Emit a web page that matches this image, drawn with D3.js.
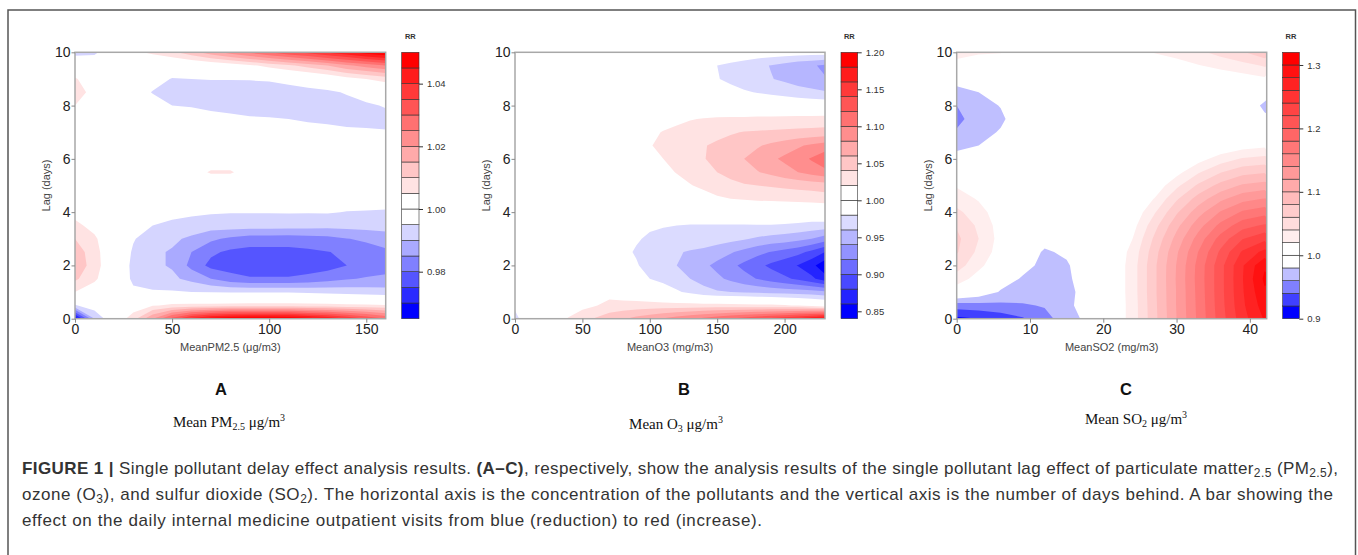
<!DOCTYPE html>
<html>
<head>
<meta charset="utf-8">
<script src="https://cdn.jsdelivr.net/npm/d3@7"></script>
<style>
  body { margin: 0; background: #fff; }
  svg { display: block; font-family: "Liberation Sans", Arial, sans-serif; }
</style>
</head>
<body>
<div id="chart"></div>
<script>
// lag rows shared by the three surfaces (days)
const lags = [0, 0.5, 1, 1.5, 2, 2.5, 3, 3.5, 4, 4.5, 5, 5.5, 6, 6.5, 7, 7.5, 8, 8.5, 9, 9.5, 10];
const lagTicks = [0, 2, 4, 6, 8, 10];

// A: PM2.5
const pm25X = [0, 10, 20, 30, 40, 50, 60, 70, 80, 90, 100, 110, 120, 130, 140, 150, 160];
const pm25Ticks = [0, 50, 100, 150];
const pm25Levels = [0.965, 0.97, 0.975, 0.98, 0.985, 0.99, 0.995, 1.0, 1.005, 1.01, 1.015, 1.02, 1.025, 1.03, 1.035, 1.04, 1.045, 1.05];
const pm25Keys = [0.98, 1.00, 1.02, 1.04];
const pm25RR = [
  [0.966, 0.990, 1.000, 1.008, 1.020, 1.032, 1.042, 1.048, 1.051, 1.052, 1.052, 1.051, 1.048, 1.045, 1.040, 1.035, 1.030],
  [0.9945, 0.998, 1.000, 1.0015, 1.0045, 1.006, 1.0065, 1.0065, 1.0068, 1.007, 1.007, 1.007, 1.0068, 1.0065, 1.0062, 1.006, 1.0055],
  [1.005, 1.002, 1.000, 0.996, 0.9955, 0.9955, 0.995, 0.9948, 0.9946, 0.9945, 0.9945, 0.9945, 0.994, 0.9935, 0.993, 0.9925, 0.992],
  [1.011, 1.006, 1.000, 0.994, 0.9925, 0.991, 0.9885, 0.985, 0.982, 0.9805, 0.9805, 0.9805, 0.9815, 0.983, 0.9845, 0.9855, 0.986],
  [1.013, 1.008, 0.999, 0.994, 0.991, 0.9895, 0.9835, 0.9785, 0.9775, 0.977, 0.977, 0.977, 0.9772, 0.978, 0.980, 0.9815, 0.983],
  [1.0125, 1.0075, 0.999, 0.9945, 0.991, 0.9895, 0.985, 0.981, 0.979, 0.9785, 0.9785, 0.9785, 0.979, 0.9798, 0.981, 0.9825, 0.984],
  [1.010, 1.006, 0.9995, 0.9953, 0.993, 0.991, 0.989, 0.986, 0.984, 0.9825, 0.9825, 0.9825, 0.983, 0.9835, 0.9848, 0.986, 0.9875],
  [1.0065, 1.003, 1.000, 0.997, 0.995, 0.9935, 0.993, 0.9925, 0.9925, 0.9925, 0.9925, 0.9922, 0.992, 0.9918, 0.9918, 0.992, 0.992],
  [1.003, 1.001, 1.000, 0.999, 0.998, 0.997, 0.996, 0.9955, 0.9952, 0.9952, 0.9952, 0.9953, 0.9953, 0.9954, 0.9948, 0.9946, 0.9945],
  [1.001, 1.000, 1.000, 1.000, 0.9995, 0.999, 0.9985, 0.998, 0.998, 0.998, 0.998, 0.998, 0.998, 0.998, 0.998, 0.998, 0.997],
  [1.000, 1.000, 1.000, 1.000, 1.000, 1.000, 1.000, 1.000, 1.000, 1.000, 0.9995, 0.9995, 0.9995, 0.9995, 0.9995, 0.9995, 0.999],
  [1.000, 1.000, 1.000, 1.000, 1.0005, 1.001, 1.002, 1.0057, 1.0057, 1.002, 1.0005, 1.000, 1.000, 1.000, 1.000, 1.000, 0.9995],
  [1.000, 1.000, 1.000, 1.000, 1.000, 1.000, 1.0005, 1.001, 1.001, 1.000, 1.000, 0.9995, 0.9995, 0.9995, 0.9995, 0.9995, 0.9995],
  [1.001, 1.000, 1.000, 1.000, 0.9995, 0.9995, 0.9995, 0.999, 0.999, 0.9985, 0.9985, 0.998, 0.998, 0.998, 0.998, 0.998, 0.998],
  [1.002, 1.001, 1.000, 0.9995, 0.999, 0.998, 0.9975, 0.9975, 0.9975, 0.997, 0.997, 0.9965, 0.9965, 0.9965, 0.996, 0.9958, 0.9955],
  [1.003, 1.002, 1.000, 0.999, 0.998, 0.9965, 0.9965, 0.9962, 0.996, 0.9955, 0.9953, 0.995, 0.9945, 0.994, 0.9935, 0.9932, 0.993],
  [1.005, 1.003, 1.000, 0.998, 0.9965, 0.995, 0.9948, 0.9942, 0.9935, 0.993, 0.993, 0.9928, 0.9925, 0.9925, 0.993, 0.994, 0.9955],
  [1.007, 1.0035, 0.9995, 0.997, 0.9948, 0.993, 0.9925, 0.9925, 0.9925, 0.9925, 0.993, 0.993, 0.9935, 0.994, 0.9955, 0.998, 0.999],
  [1.0055, 1.002, 0.9995, 0.998, 0.9965, 0.9948, 0.995, 0.9952, 0.9952, 0.9953, 0.9955, 0.9965, 0.998, 1.000, 1.003, 1.005, 1.007],
  [1.001, 0.999, 0.999, 1.000, 0.9995, 0.998, 0.999, 1.000, 1.002, 1.004, 1.0065, 1.009, 1.012, 1.015, 1.019, 1.022, 1.025],
  [0.993, 0.994, 0.999, 1.004, 1.006, 1.009, 1.013, 1.018, 1.022, 1.026, 1.030, 1.034, 1.037, 1.041, 1.044, 1.048, 1.051]
];

// B: O3
const o3X = [0, 10, 20, 30, 40, 50, 60, 70, 80, 90, 100, 110, 120, 130, 140, 150, 160, 170, 180, 190, 200, 210, 220, 230];
const o3Ticks = [0, 50, 100, 150, 200];
const o3Levels = [0.84, 0.86, 0.88, 0.90, 0.92, 0.94, 0.96, 0.98, 1.00, 1.02, 1.04, 1.06, 1.08, 1.10, 1.12, 1.14, 1.16, 1.18, 1.20];
const o3Keys = [0.85, 0.90, 0.95, 1.00, 1.05, 1.10, 1.15, 1.20];
const o3RR = [
  [0.972, 0.998, 1.003, 1.012, 1.022, 1.032, 1.042, 1.050, 1.058, 1.066, 1.074, 1.082, 1.090, 1.098, 1.106, 1.114, 1.122, 1.130, 1.138, 1.146, 1.155, 1.165, 1.177, 1.190],
  [0.985, 0.999, 1.000, 1.002, 1.006, 1.014, 1.019, 1.028, 1.028, 1.028, 1.028, 1.028, 1.028, 1.028, 1.028, 1.028, 1.027, 1.026, 1.025, 1.024, 1.022, 1.018, 1.012, 1.005],
  [0.998, 1.000, 1.000, 1.000, 1.000, 1.001, 1.004, 1.010, 1.006, 1.003, 0.999, 0.992, 0.983, 0.975, 0.967, 0.962, 0.960, 0.958, 0.956, 0.954, 0.952, 0.950, 0.948, 0.945],
  [1.000, 1.000, 1.000, 1.000, 1.000, 1.000, 1.000, 0.999, 0.995, 0.988, 0.980, 0.974, 0.967, 0.960, 0.952, 0.944, 0.936, 0.927, 0.919, 0.911, 0.904, 0.896, 0.885, 0.868],
  [1.000, 1.000, 1.000, 1.000, 1.000, 1.000, 0.998, 0.995, 0.990, 0.982, 0.972, 0.966, 0.960, 0.952, 0.944, 0.935, 0.925, 0.915, 0.905, 0.896, 0.888, 0.879, 0.866, 0.846],
  [1.000, 1.000, 1.000, 1.000, 1.000, 0.998, 0.995, 0.991, 0.985, 0.978, 0.971, 0.966, 0.962, 0.958, 0.955, 0.949, 0.942, 0.934, 0.926, 0.919, 0.913, 0.906, 0.895, 0.880],
  [1.000, 1.000, 1.000, 1.000, 1.000, 0.999, 0.996, 0.993, 0.988, 0.982, 0.977, 0.975, 0.973, 0.972, 0.971, 0.969, 0.966, 0.962, 0.957, 0.953, 0.950, 0.946, 0.940, 0.930],
  [1.000, 1.000, 1.000, 1.000, 1.000, 1.000, 0.998, 0.996, 0.993, 0.988, 0.983, 0.981, 0.980, 0.979, 0.979, 0.979, 0.979, 0.979, 0.979, 0.979, 0.978, 0.976, 0.973, 0.972],
  [1.000, 1.000, 1.000, 1.000, 1.000, 1.000, 1.000, 1.000, 0.999, 0.998, 0.996, 0.995, 0.994, 0.993, 0.993, 0.993, 0.993, 0.994, 0.995, 0.996, 0.997, 0.998, 0.999, 1.000],
  [1.000, 1.000, 1.000, 1.000, 1.000, 1.000, 1.000, 1.000, 1.000, 1.001, 1.002, 1.003, 1.005, 1.008, 1.012, 1.017, 1.020, 1.022, 1.024, 1.025, 1.026, 1.027, 1.028, 1.030],
  [1.000, 1.000, 1.000, 1.000, 1.000, 1.000, 1.000, 1.001, 1.002, 1.004, 1.006, 1.008, 1.013, 1.019, 1.024, 1.030, 1.034, 1.038, 1.040, 1.042, 1.044, 1.046, 1.048, 1.050],
  [1.000, 1.000, 1.000, 1.000, 1.000, 1.000, 1.001, 1.002, 1.004, 1.007, 1.010, 1.014, 1.021, 1.027, 1.033, 1.040, 1.047, 1.053, 1.059, 1.065, 1.072, 1.080, 1.088, 1.095],
  [1.000, 1.000, 1.000, 1.000, 1.000, 1.000, 1.001, 1.003, 1.006, 1.010, 1.014, 1.020, 1.027, 1.033, 1.039, 1.046, 1.053, 1.060, 1.068, 1.076, 1.084, 1.092, 1.102, 1.112],
  [1.000, 1.000, 1.000, 1.000, 1.000, 1.000, 1.001, 1.004, 1.008, 1.013, 1.019, 1.024, 1.029, 1.034, 1.039, 1.043, 1.048, 1.053, 1.058, 1.064, 1.070, 1.077, 1.084, 1.090],
  [1.000, 1.000, 1.000, 1.000, 1.000, 1.000, 1.001, 1.003, 1.007, 1.011, 1.016, 1.021, 1.024, 1.028, 1.032, 1.035, 1.038, 1.041, 1.042, 1.043, 1.044, 1.045, 1.046, 1.047],
  [1.000, 1.000, 1.000, 1.000, 1.000, 1.000, 1.000, 1.001, 1.003, 1.005, 1.008, 1.012, 1.016, 1.019, 1.021, 1.023, 1.024, 1.024, 1.025, 1.025, 1.026, 1.027, 1.027, 1.028],
  [1.000, 1.000, 1.000, 1.000, 1.000, 1.000, 1.000, 1.000, 0.999, 0.999, 0.999, 0.998, 0.998, 0.997, 0.997, 0.997, 0.997, 0.997, 0.997, 0.997, 0.996, 0.996, 0.995, 0.995],
  [1.000, 1.000, 1.000, 1.000, 1.000, 1.000, 1.000, 1.000, 1.000, 0.998, 0.997, 0.996, 0.995, 0.994, 0.992, 0.989, 0.986, 0.982, 0.979, 0.976, 0.973, 0.969, 0.966, 0.962],
  [1.000, 1.000, 1.000, 1.000, 1.000, 1.000, 1.000, 1.000, 1.000, 0.997, 0.996, 0.994, 0.992, 0.989, 0.985, 0.981, 0.976, 0.971, 0.966, 0.961, 0.956, 0.950, 0.945, 0.941],
  [1.000, 1.000, 1.000, 1.000, 1.000, 1.000, 1.000, 1.000, 1.000, 0.997, 0.996, 0.994, 0.991, 0.988, 0.984, 0.980, 0.976, 0.971, 0.965, 0.959, 0.953, 0.947, 0.942, 0.937],
  [1.000, 1.000, 1.000, 1.000, 1.000, 1.000, 1.000, 1.000, 1.000, 1.000, 0.999, 0.999, 0.998, 0.998, 0.997, 0.996, 0.995, 0.994, 0.993, 0.992, 0.991, 0.990, 0.990, 0.990]
];

// C: SO2
const so2X = [0, 3, 6, 9, 12, 15, 18, 21, 24, 27, 30, 33, 36, 39, 42];
const so2Ticks = [0, 10, 20, 30, 40];
const so2Levels = [0.90, 0.92, 0.94, 0.96, 0.98, 1.00, 1.02, 1.04, 1.06, 1.08, 1.10, 1.12, 1.14, 1.16, 1.18, 1.20, 1.22, 1.24, 1.26, 1.28, 1.30, 1.32];
const so2Keys = [0.9, 1.0, 1.1, 1.2, 1.3];
const so2RR = [
  [0.915, 0.920, 0.928, 0.938, 0.952, 0.972, 0.985, 1.000, 1.029, 1.074, 1.120, 1.165, 1.210, 1.252, 1.282],
  [0.950, 0.952, 0.955, 0.957, 0.962, 0.975, 0.990, 1.000, 1.029, 1.075, 1.121, 1.166, 1.212, 1.256, 1.290],
  [1.008, 0.995, 0.978, 0.975, 0.970, 0.972, 0.992, 1.000, 1.030, 1.076, 1.121, 1.167, 1.213, 1.258, 1.297],
  [1.030, 1.012, 0.990, 0.978, 0.972, 0.975, 0.995, 1.000, 1.030, 1.076, 1.122, 1.168, 1.213, 1.259, 1.304],
  [1.050, 1.025, 1.005, 0.986, 0.975, 0.977, 0.997, 1.000, 1.030, 1.076, 1.121, 1.167, 1.213, 1.258, 1.297],
  [1.062, 1.035, 1.010, 0.995, 0.977, 0.984, 0.999, 1.000, 1.027, 1.072, 1.117, 1.161, 1.204, 1.243, 1.266],
  [1.065, 1.040, 1.012, 1.000, 0.988, 0.993, 1.000, 1.000, 1.020, 1.064, 1.107, 1.149, 1.188, 1.219, 1.235],
  [1.058, 1.036, 1.011, 1.000, 0.997, 0.998, 1.000, 1.000, 1.012, 1.053, 1.094, 1.132, 1.166, 1.192, 1.203],
  [1.045, 1.028, 1.008, 1.000, 1.000, 1.000, 1.000, 1.000, 1.004, 1.038, 1.077, 1.112, 1.142, 1.163, 1.172],
  [1.030, 1.018, 1.005, 1.000, 1.000, 1.000, 1.000, 1.000, 1.000, 1.021, 1.057, 1.089, 1.115, 1.133, 1.141],
  [1.018, 1.008, 1.002, 1.000, 1.000, 1.000, 1.000, 1.000, 1.000, 1.006, 1.035, 1.064, 1.087, 1.103, 1.109],
  [1.008, 1.002, 1.000, 1.000, 1.000, 1.000, 1.000, 1.000, 1.000, 1.000, 1.013, 1.038, 1.059, 1.073, 1.078],
  [0.987, 0.992, 0.996, 0.998, 1.000, 1.000, 1.000, 1.000, 1.000, 1.000, 1.000, 1.012, 1.029, 1.042, 1.047],
  [0.975, 0.980, 0.990, 0.997, 1.000, 1.000, 1.000, 1.000, 1.000, 1.000, 1.000, 1.000, 1.003, 1.011, 1.015],
  [0.962, 0.972, 0.982, 0.995, 0.999, 1.000, 1.000, 1.000, 1.000, 1.000, 1.000, 1.000, 1.000, 0.998, 0.995],
  [0.955, 0.969, 0.976, 0.994, 0.999, 1.000, 1.000, 1.000, 1.000, 1.000, 1.000, 1.000, 0.999, 0.996, 0.984],
  [0.960, 0.972, 0.981, 0.995, 0.999, 1.000, 1.000, 1.000, 1.000, 1.000, 1.000, 1.000, 0.999, 0.995, 0.976],
  [0.972, 0.980, 0.990, 0.997, 1.000, 1.000, 1.000, 1.000, 1.000, 1.000, 1.000, 1.000, 1.000, 1.000, 0.990],
  [0.990, 0.995, 0.998, 0.999, 1.000, 1.000, 1.000, 1.000, 1.000, 1.000, 1.001, 1.003, 1.006, 1.010, 1.016],
  [1.015, 1.010, 1.005, 1.001, 1.000, 1.000, 1.000, 1.000, 1.002, 1.006, 1.012, 1.019, 1.026, 1.033, 1.042],
  [1.025, 1.022, 1.021, 1.008, 1.002, 1.000, 1.000, 1.004, 1.012, 1.021, 1.027, 1.036, 1.047, 1.058, 1.075]
];

const width = 1358, height = 555;
const plotTop = 52.3, plotBottom = 318.7;

const svg = d3.select("#chart").append("svg")
    .attr("width", width)
    .attr("height", height);

svg.append("rect").attr("width", width).attr("height", height).attr("fill", "#fff");

// frame round the figure
svg.append("path")
    .attr("d", "M8,560V10H1355.5V560")
    .attr("fill", "none")
    .attr("stroke", "#555")
    .attr("stroke-width", 1.5);

// blue -> white below 1, white -> red above 1 (same as the R palette)
function bandColors(levels) {
    const nLow = levels.filter(l => l < 1 - 1e-9).length;
    const nHigh = levels.filter(l => l > 1 + 1e-9).length;
    const low = d3.range(nLow).map(i => d3.interpolateRgb("#0000ff", "#ffffff")(nLow > 1 ? i / (nLow - 1) : 1));
    const high = d3.range(nHigh).map(i => d3.interpolateRgb("#ffffff", "#ff0000")(nHigh > 1 ? i / (nHigh - 1) : 0));
    return low.concat(high);
}

function drawPanel(p) {
    const x = d3.scaleLinear().domain(p.xDomain).range([p.left, p.right]);
    const y = d3.scaleLinear().domain([0, 10]).range([plotBottom, plotTop]);
    const colors = bandColors(p.levels);
    const nx = p.xs.length, ny = lags.length;
    const dx = p.xs[1] - p.xs[0], dl = lags[1] - lags[0];

    // grid coordinates from d3.contours back to data units
    const toScreen = d3.geoTransform({
        point: function(gx, gy) {
            this.stream.point(x(p.xs[0] + (gx - 0.5) * dx), y(lags[0] + (gy - 0.5) * dl));
        }
    });
    const path = d3.geoPath(toScreen);

    const bands = d3.contours()
        .size([nx, ny])
        .thresholds(p.levels.slice(0, -1))
        (p.rr.flat());

    svg.append("clipPath").attr("id", "clip-" + p.id)
        .append("rect")
        .attr("x", p.left).attr("y", plotTop)
        .attr("width", p.right - p.left).attr("height", plotBottom - plotTop);

    svg.append("g")
        .attr("clip-path", `url(#clip-${p.id})`)
        .selectAll("path")
        .data(bands)
        .enter()
        .append("path")
        .attr("d", path)
        .attr("fill", (d, i) => colors[i]);

    // plot box
    svg.append("rect")
        .attr("x", p.left).attr("y", plotTop)
        .attr("width", p.right - p.left).attr("height", plotBottom - plotTop)
        .attr("fill", "none")
        .attr("stroke", "#a8a8a8")
        .attr("stroke-width", 1.5);

    const xAxis = svg.append("g")
        .attr("transform", `translate(0,${plotBottom})`)
        .call(d3.axisBottom(x).tickValues(p.xTicks).tickSize(4).tickPadding(1.5));
    const yAxis = svg.append("g")
        .attr("transform", `translate(${p.left},0)`)
        .call(d3.axisLeft(y).tickValues(lagTicks).tickSize(3.5).tickPadding(1));
    [xAxis, yAxis].forEach(a => {
        a.select(".domain").remove();
        a.selectAll("line").attr("stroke", "#888");
        a.selectAll("text").attr("font-size", 14).attr("fill", "#222")
            .attr("font-family", "Liberation Sans, Arial, sans-serif");
    });

    svg.append("text")
        .attr("x", (p.left + p.right) / 2)
        .attr("y", 350.5)
        .attr("text-anchor", "middle")
        .attr("font-size", 11)
        .attr("fill", "#444")
        .text(p.xTitle);

    svg.append("text")
        .attr("transform", `translate(${p.left - 29},${(plotTop + plotBottom) / 2}) rotate(-90)`)
        .attr("dy", "0.35em")
        .attr("text-anchor", "middle")
        .attr("font-size", 11)
        .attr("fill", "#444")
        .text("Lag (days)");

    // colour key
    const k = d3.scaleLinear()
        .domain([p.levels[0], p.levels[p.levels.length - 1]])
        .range([plotBottom, plotTop]);
    const key = svg.append("g");
    key.selectAll("rect")
        .data(colors)
        .enter()
        .append("rect")
        .attr("x", p.keyLeft)
        .attr("width", p.keyRight - p.keyLeft)
        .attr("y", (d, i) => k(p.levels[i + 1]))
        .attr("height", (d, i) => k(p.levels[i]) - k(p.levels[i + 1]))
        .attr("fill", d => d)
        .attr("stroke", "#333")
        .attr("stroke-width", 0.6);

    const keyAxis = key.append("g")
        .attr("transform", `translate(${p.keyRight},0)`)
        .call(d3.axisRight(k).tickValues(p.keys).tickFormat(d3.format(p.keyFormat)).tickSize(4).tickPadding(4));
    keyAxis.select(".domain").remove();
    keyAxis.selectAll("line").attr("stroke", "#333");
    keyAxis.selectAll("text").attr("font-size", 9.5).attr("fill", "#333")
        .attr("font-family", "Liberation Sans, Arial, sans-serif");

    svg.append("text")
        .attr("x", (p.keyLeft + p.keyRight) / 2)
        .attr("y", 38.5)
        .attr("text-anchor", "middle")
        .attr("font-size", 7.5)
        .attr("font-weight", "bold")
        .attr("fill", "#333")
        .text("RR");

    // panel letter and note below
    svg.append("text")
        .attr("x", p.letterX)
        .attr("y", 395)
        .attr("text-anchor", "middle")
        .attr("font-size", 16.5)
        .attr("font-weight", "bold")
        .attr("fill", "#111")
        .text(p.letter);

    const note = svg.append("text")
        .attr("x", p.noteX)
        .attr("y", p.noteY)
        .attr("text-anchor", "middle")
        .attr("font-family", "Liberation Serif, Times New Roman, serif")
        .attr("font-size", 15)
        .attr("fill", "#111");
    note.append("tspan").text("Mean " + p.noteGas);
    note.append("tspan").attr("font-size", 10).attr("dy", 3).text(p.noteSub);
    note.append("tspan").attr("dy", -3).text(" \u03bcg/m");
    note.append("tspan").attr("font-size", 10).attr("dy", -6).text("3");
}

drawPanel({
    id: "a", left: 75, right: 385.7, xDomain: [0, 160], xs: pm25X, rr: pm25RR,
    levels: pm25Levels, keys: pm25Keys, keyFormat: ".2f", xTicks: pm25Ticks,
    keyLeft: 401.7, keyRight: 419, xTitle: "MeanPM2.5 (\u03bcg/m3)",
    letter: "A", letterX: 221, noteX: 229, noteY: 427, noteGas: "PM", noteSub: "2.5"
});
drawPanel({
    id: "b", left: 515, right: 825, xDomain: [0, 230], xs: o3X, rr: o3RR,
    levels: o3Levels, keys: o3Keys, keyFormat: ".2f", xTicks: o3Ticks,
    keyLeft: 841, keyRight: 857.7, xTitle: "MeanO3 (mg/m3)",
    letter: "B", letterX: 684, noteX: 676, noteY: 429, noteGas: "O", noteSub: "3"
});
drawPanel({
    id: "c", left: 956.7, right: 1266.7, xDomain: [0, 42.3], xs: so2X, rr: so2RR,
    levels: so2Levels, keys: so2Keys, keyFormat: ".1f", xTicks: so2Ticks,
    keyLeft: 1282.7, keyRight: 1299.3, xTitle: "MeanSO2 (mg/m3)",
    letter: "C", letterX: 1126, noteX: 1136, noteY: 424, noteGas: "SO", noteSub: "2"
});

// caption
const cap = svg.append("g")
    .attr("font-size", 17)
    .attr("fill", "#333");

const line1 = cap.append("text").attr("x", 22).attr("y", 474)
    .attr("textLength", 1316).attr("lengthAdjust", "spacing");
line1.append("tspan").attr("font-weight", "bold").text("FIGURE 1 | ");
line1.append("tspan").text("Single pollutant delay effect analysis results. ");
line1.append("tspan").attr("font-weight", "bold").text("(A\u2013C)");
line1.append("tspan").text(", respectively, show the analysis results of the single pollutant lag effect of particulate matter");
line1.append("tspan").attr("font-size", 12).attr("dy", 3).text("2.5");
line1.append("tspan").attr("dy", -3).text(" (PM");
line1.append("tspan").attr("font-size", 12).attr("dy", 3).text("2.5");
line1.append("tspan").attr("dy", -3).text("),");

const line2 = cap.append("text").attr("x", 22).attr("y", 500)
    .attr("textLength", 1311).attr("lengthAdjust", "spacing");
line2.append("tspan").text("ozone (O");
line2.append("tspan").attr("font-size", 12).attr("dy", 3).text("3");
line2.append("tspan").attr("dy", -3).text("), and sulfur dioxide (SO");
line2.append("tspan").attr("font-size", 12).attr("dy", 3).text("2");
line2.append("tspan").attr("dy", -3).text("). The horizontal axis is the concentration of the pollutants and the vertical axis is the number of days behind. A bar showing the");

cap.append("text").attr("x", 22).attr("y", 526)
    .attr("textLength", 740).attr("lengthAdjust", "spacing")
    .text("effect on the daily internal medicine outpatient visits from blue (reduction) to red (increase).");
</script>
</body>
</html>
